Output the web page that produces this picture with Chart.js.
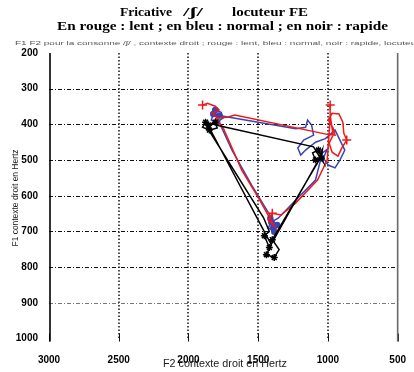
<!DOCTYPE html>
<html>
<head>
<meta charset="utf-8">
<script src="https://cdn.jsdelivr.net/npm/chart.js@4/dist/chart.umd.min.js"></script>
<style>
  html, body { margin: 0; padding: 0; background: #fff; }
  canvas { display: block; }
</style>
</head>
<body>
<canvas id="c" width="414" height="372"></canvas>
<script>
// F2 / F1 trajectories (Hz) for the three speaking rates
const redF2 = [1899, 1864, 1808, 1780, 1829, 1794, 1723, 1667, 1005, 949, 963, 998, 970, 921, 893, 886, 865, 900, 928, 970, 991, 963, 984, 984, 984, 1005, 1075, 1230, 1336, 1399, 1427, 1385, 1498, 1618, 1751, 1808];
const redF1 = [346, 341, 349, 360, 368, 382, 380, 374, 428, 430, 410, 388, 369, 371, 394, 425, 444, 466, 489, 478, 453, 430, 374, 346, 382, 500, 556, 620, 654, 649, 668, 685, 606, 528, 410, 382];

const blueF2 = [1842, 1808, 1765, 1751, 1794, 1836, 1822, 1780, 1230, 1160, 1146, 1117, 1103, 1174, 1216, 1195, 1160, 1089, 1018, 949, 914, 879, 914, 949, 998, 1033, 1005, 1040, 1089, 1230, 1357, 1406, 1427, 1385, 1364, 1413, 1392, 1547, 1688, 1780];
const blueF1 = [369, 360, 366, 382, 393, 388, 371, 375, 412, 408, 388, 402, 430, 444, 466, 486, 472, 450, 440, 416, 444, 472, 500, 522, 514, 494, 470, 480, 556, 612, 663, 674, 690, 701, 682, 663, 670, 570, 472, 394];

const blackF2 = [1877, 1899, 1850, 1794, 1808, 1857, 1836, 1441, 1406, 1441, 1385, 1350, 1399, 1075, 1040, 1047, 1089, 1110, 1068, 1033, 1061, 1103, 1780, 1822, 1864, 1462, 1420, 1456, 1420, 1089, 1061];
const blackF1 = [394, 408, 416, 410, 394, 402, 420, 712, 737, 765, 773, 751, 723, 508, 472, 494, 500, 480, 472, 506, 490, 463, 404, 398, 410, 661, 700, 712, 745, 515, 500];

// marked frames along each trajectory
const redMarkF2 = [1899, 984, 865, 1399];
const redMarkF1 = [346, 346, 444, 649];
const blueMarkF2 = [1808, 1794, 1822, 1780, 1406, 1385, 1413, 1364, 1392];
const blueMarkF1 = [360, 393, 371, 375, 674, 701, 663, 682, 690];
const blackMarkF2 = [1877, 1850, 1808, 1857, 1047, 1068, 1089, 1441, 1385, 1399, 1420, 1456];
const blackMarkF1 = [394, 416, 394, 402, 494, 472, 500, 765, 773, 723, 745, 712];

// axis ranges and ticks
const f2Range = [500, 3000];
const f1Range = [200, 1000];
const f2Step = 500;
const f1Step = 100;

const title1 = ['Fricative', '/ʃ/', 'locuteur FE'];
const title2 = 'En rouge : lent ; en bleu : normal ; en noir : rapide';
const note = 'F1 F2 pour la consonne /ʃ/ , contexte droit ; rouge : lent, bleu : normal, noir : rapide, locuteur FE';
const yTitle = 'F1 contexte droit en Hertz';
const xTitle = 'F2 contexte droit en Hertz';

const pts = (a, b) => a.map((v, i) => ({ x: v, y: b[i] }));

const RED = '#f01818', BLUE = '#3a44b4', BLACK = '#000000';

function pathSet(data, color) {
  return { data, showLine: true, borderColor: color, borderWidth: 1.5, pointRadius: 0, tension: 0 };
}
function markSet(data, color, style, r) {
  return { data, showLine: false, pointStyle: style, pointRadius: r, borderColor: color, backgroundColor: color, pointBorderWidth: 1.5 };
}

// text drawn at a fixed width (horizontal scaling)
function fitText(ctx, text, x, y, width, font, align) {
  ctx.font = font;
  const w = ctx.measureText(text).width;
  const s = width / w;
  ctx.save();
  ctx.translate(x, y);
  ctx.scale(s, 1);
  ctx.textAlign = align || 'left';
  ctx.fillText(text, 0, 0);
  ctx.restore();
}

const frame = {
  id: 'frame',
  beforeDatasetsDraw(chart) {
    const { ctx, chartArea: a, scales: { x, y } } = chart;
    ctx.save();
    // horizontal dash-dot grid
    ctx.strokeStyle = '#111';
    ctx.lineWidth = 1;
    ctx.setLineDash([4, 2, 1, 2]);
    y.ticks.map(t => t.value).filter(v => v > f1Range[0] && v < f1Range[1]).forEach(v => {
      const py = Math.round(y.getPixelForValue(v)) + 0.5;
      ctx.strokeStyle = v === 900 ? '#777' : '#111';
      ctx.beginPath(); ctx.moveTo(a.left, py); ctx.lineTo(a.right, py); ctx.stroke();
    });
    // vertical dotted grid
    ctx.strokeStyle = '#111';
    ctx.lineWidth = 1.5;
    ctx.setLineDash([1.5, 2]);
    x.ticks.map(t => t.value).filter(v => v > f2Range[0] && v < f2Range[1]).forEach(v => {
      const px = Math.round(x.getPixelForValue(v));
      ctx.beginPath(); ctx.moveTo(px, a.top); ctx.lineTo(px, a.bottom); ctx.stroke();
    });
    ctx.setLineDash([]);
    // bottom tick marks
    ctx.lineWidth = 1;
    x.ticks.forEach(t => {
      const px = Math.round(x.getPixelForValue(t.value)) + 0.5;
      ctx.beginPath(); ctx.moveTo(px, a.bottom - 5); ctx.lineTo(px, a.bottom + 3); ctx.stroke();
    });
    // left and right axis lines
    ctx.lineWidth = 1.6;
    ctx.strokeStyle = '#000';
    ctx.beginPath(); ctx.moveTo(a.left + 1, a.top); ctx.lineTo(a.left + 1, a.bottom + 3); ctx.stroke();
    ctx.strokeStyle = '#6a6a6a';
    ctx.beginPath(); ctx.moveTo(a.right, a.top); ctx.lineTo(a.right, a.bottom + 3); ctx.stroke();
    ctx.restore();
  },
  afterDraw(chart) {
    const { ctx } = chart;
    ctx.save();
    ctx.fillStyle = '#000';
    ctx.textBaseline = 'alphabetic';
    const serif = 'bold 13px "Liberation Serif", "DejaVu Serif", serif';
    fitText(ctx, title1[0], 120, 16, 52, serif);
    fitText(ctx, title1[1], 183, 16, 20, serif);
    fitText(ctx, title1[2], 232, 16, 76, serif);
    fitText(ctx, title2, 57, 30, 331, serif);
    ctx.fillStyle = '#555';
    fitText(ctx, note, 15, 45, 420, '6px "Liberation Sans", sans-serif');
    ctx.fillStyle = '#222';
    fitText(ctx, xTitle, 163, 367, 124, '10px "Liberation Sans Narrow", "Liberation Sans", sans-serif');
    ctx.save();
    ctx.translate(18, 198);
    ctx.rotate(-Math.PI / 2);
    fitText(ctx, yTitle, 0, 0, 97, '9px "Liberation Sans Narrow", "Liberation Sans", sans-serif', 'center');
    ctx.restore();
    ctx.restore();
  }
};

const tickFont = { family: '"Liberation Sans Narrow", "Liberation Sans", sans-serif', size: 10, weight: 'bold' };
const plain = v => String(v);

new Chart(document.getElementById('c'), {
  type: 'scatter',
  data: {
    datasets: [
      pathSet(pts(blackF2, blackF1), BLACK),
      markSet(pts(blackMarkF2, blackMarkF1), BLACK, 'star', 3.5),
      pathSet(pts(redF2, redF1), RED),
      markSet(pts(redMarkF2, redMarkF1), RED, 'cross', 4.5),
      pathSet(pts(blueF2, blueF1), BLUE),
      markSet(pts(blueMarkF2, blueMarkF1), BLUE, 'circle', 2.5)
    ]
  },
  options: {
    responsive: false,
    animation: false,
    devicePixelRatio: 1,
    layout: { padding: { top: 53, right: 10, left: 0, bottom: 0 } },
    plugins: { legend: { display: false }, tooltip: { enabled: false } },
    scales: {
      x: {
        type: 'linear', reverse: true, min: f2Range[0], max: f2Range[1],
        ticks: { stepSize: f2Step, padding: 8, color: '#000', font: tickFont, maxRotation: 0, callback: plain },
        grid: { display: false }, border: { display: false },
        afterFit(s) { s.height = 33.5; }
      },
      y: {
        type: 'linear', reverse: true, min: f1Range[0], max: f1Range[1],
        ticks: { stepSize: f1Step, padding: 3, color: '#000', font: tickFont, callback: plain },
        grid: { display: false }, border: { display: false },
        afterFit(s) { s.width = 49; }
      }
    }
  },
  plugins: [frame]
});
</script>
</body>
</html>
